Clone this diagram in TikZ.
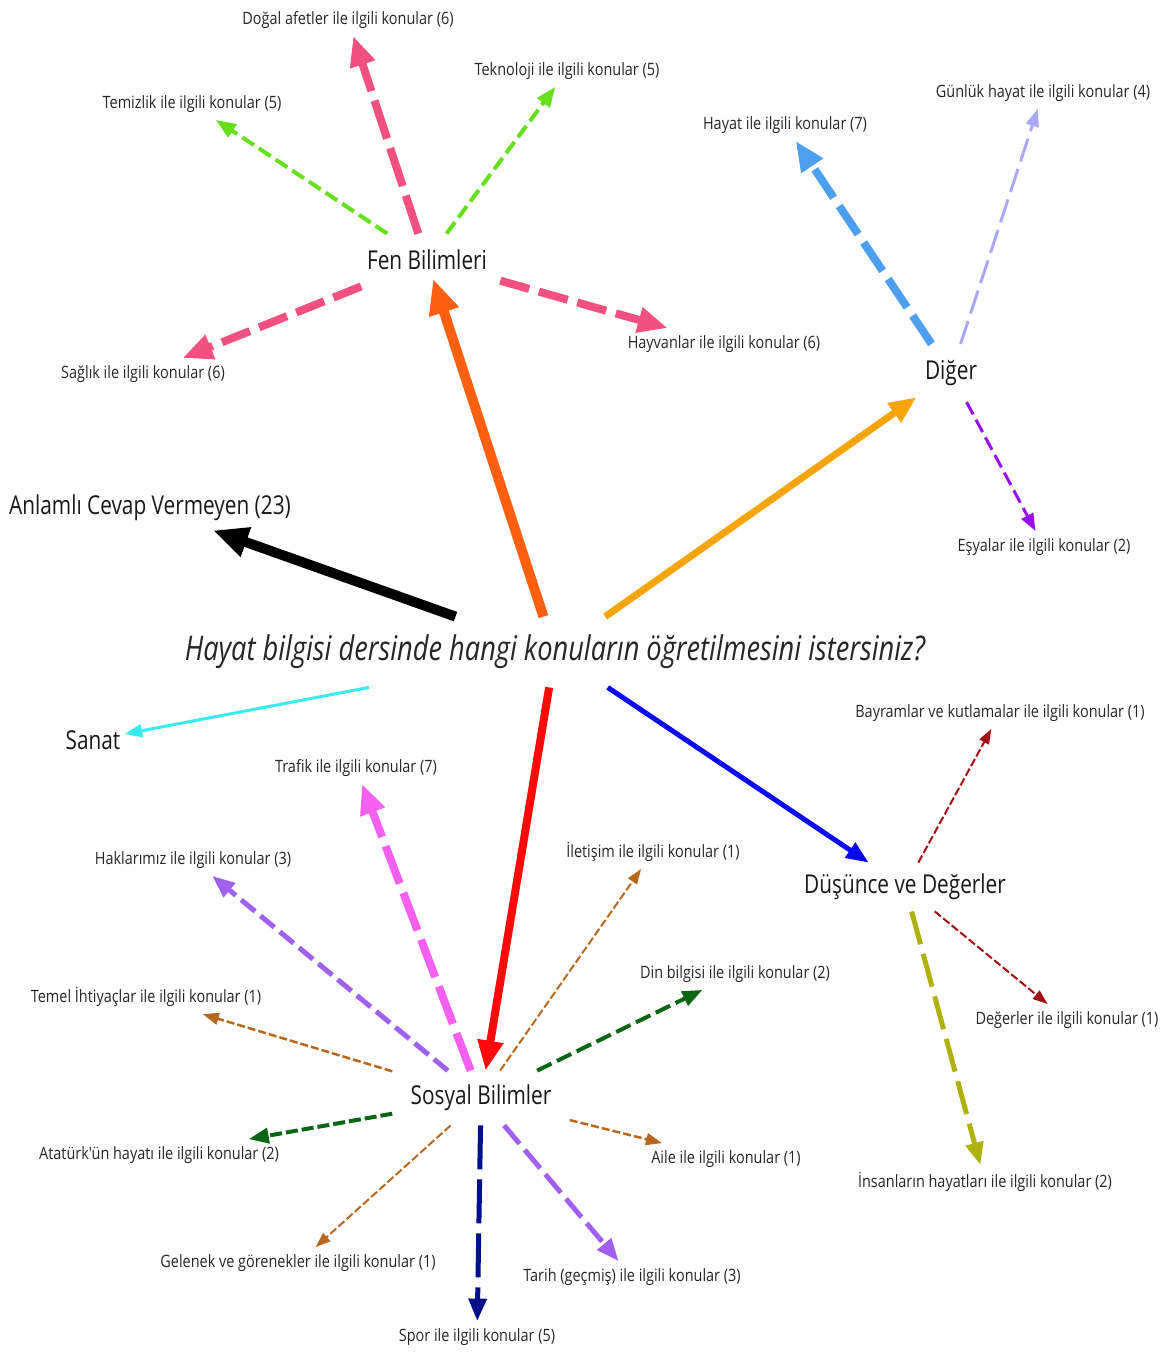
\documentclass[tikz,border=0pt]{standalone}
\usepackage{fontspec}
\setmainfont{Open Sans}
\newfontfamily\leaffnt{Open Sans}[FakeStretch=0.85]
\newfontfamily\hubfnt{Open Sans}[FakeStretch=0.8]
\newfontfamily\ctrfnt{Open Sans}[FakeStretch=0.8]
\usetikzlibrary{arrows.meta}
\definecolor{fenorange}{HTML}{FF6010}
\definecolor{amber}{HTML}{F5A50A}
\definecolor{cyanc}{HTML}{38ECEE}
\definecolor{redc}{HTML}{FF0A0A}
\definecolor{bluec}{HTML}{0A0AF0}
\definecolor{pinkc}{HTML}{F25080}
\definecolor{lgreen}{HTML}{66E01A}
\definecolor{skyc}{HTML}{4DA0F0}
\definecolor{lavc}{HTML}{A8A8F5}
\definecolor{violc}{HTML}{9910F0}
\definecolor{dredc}{HTML}{A50F14}
\definecolor{olivec}{HTML}{B0B010}
\definecolor{magc}{HTML}{F560F0}
\definecolor{purpc}{HTML}{A060F0}
\definecolor{brownc}{HTML}{B8681E}
\definecolor{dgreen}{HTML}{0A6614}
\definecolor{navyc}{HTML}{00108A}
\begin{document}
\begin{tikzpicture}[x=0.5pt,y=-0.5pt,
  leaf/.style={font=\leaffnt\fontsize{8.5}{10}\selectfont, text=black!85, inner xsep=0pt, inner ysep=3.5pt},
  hub/.style={font=\hubfnt\fontsize{13}{15}\selectfont, text=black!90},
  ctrnode/.style={font=\ctrfnt\itshape\fontsize{17}{20}\selectfont, text=black!85, inner xsep=0pt, inner ysep=9pt},
  conn/.style={-{Triangle[length=5pt 2.5,width=3pt 2.3]}}]
\useasboundingbox[fill=white] (0,0) rectangle (1165,1352);
% main nodes
\node[ctrnode] (ctr) at (555,652) {Hayat bilgisi dersinde hangi konuların öğretilmesini istersiniz?};
\node[hub, inner xsep=6.5pt, inner ysep=8pt] (fen) at (427,260) {Fen Bilimleri};
\node[hub, inner xsep=4pt, inner ysep=8pt] (dig) at (951,373) {Diğer};
\node[hub, inner xsep=5pt, inner ysep=4.5pt] (anl) at (150,508) {Anlamlı Cevap Vermeyen (23)};
\node[hub, inner xsep=2pt, inner ysep=4pt] (san) at (93,740) {Sanat};
\node[hub, inner xsep=5pt, inner ysep=5.5pt] (dus) at (905,887) {Düşünce ve Değerler};
\node[hub, inner xsep=9pt, inner ysep=7pt] (sos) at (481,1098) {Sosyal Bilimler};
% leaves
\node[leaf] (dogal) at (348,20) {Doğal afetler ile ilgili konular (6)};
\node[leaf] (tekno) at (567,71) {Teknoloji ile ilgili konular (5)};
\node[leaf] (temiz) at (192,104) {Temizlik ile ilgili konular (5)};
\node[leaf] (saglik) at (143,374) {Sağlık ile ilgili konular (6)};
\node[leaf] (hayvan) at (724,344) {Hayvanlar ile ilgili konular (6)};
\node[leaf] (hayat) at (785,125) {Hayat ile ilgili konular (7)};
\node[leaf] (gunluk) at (1043,93) {Günlük hayat ile ilgili konular (4)};
\node[leaf] (esya) at (1044,547) {Eşyalar ile ilgili konular (2)};
\node[leaf] (bayram) at (1000,713) {Bayramlar ve kutlamalar ile ilgili konular (1)};
\node[leaf] (deger) at (1067,1020) {Değerler ile ilgili konular (1)};
\node[leaf] (insan) at (985,1182) {İnsanların hayatları ile ilgili konular (2)};
\node[leaf] (trafik) at (356,768) {Trafik ile ilgili konular (7)};
\node[leaf] (hak) at (193,860) {Haklarımız ile ilgili konular (3)};
\node[leaf] (ilet) at (653,852) {İletişim ile ilgili konular (1)};
\node[leaf] (din) at (735,974) {Din bilgisi ile ilgili konular (2)};
\node[leaf] (temel) at (146,997) {Temel İhtiyaçlar ile ilgili konular (1)};
\node[leaf] (atat) at (159,1155) {Atatürk'ün hayatı ile ilgili konular (2)};
\node[leaf] (aile) at (726,1159) {Aile ile ilgili konular (1)};
\node[leaf] (gelenek) at (298,1263) {Gelenek ve görenekler ile ilgili konular (1)};
\node[leaf] (tarih) at (632,1277) {Tarih (geçmiş) ile ilgili konular (3)};
\node[leaf] (spor) at (477,1337) {Spor ile ilgili konular (5)};
% main connectors
\draw[conn, line width=5pt, black] (ctr) -- (anl);
\draw[conn, line width=5pt, fenorange, shorten >=-4pt] (ctr) -- (fen);
\draw[conn, line width=3.5pt, amber] (ctr) -- (dig);
\draw[conn, line width=1.5pt, cyanc] (ctr) -- (san);
\draw[conn, line width=4pt, redc] (ctr) -- (sos);
\draw[conn, line width=2.5pt, bluec] (ctr) -- (dus);
% Fen Bilimleri
\draw[conn, line width=4pt, pinkc, dash pattern=on 20pt off 5pt] (fen) -- (dogal);
\draw[conn, line width=2pt, lgreen, dash pattern=on 7pt off 3pt] (fen) -- (temiz);
\draw[conn, line width=2pt, lgreen, dash pattern=on 7pt off 3pt] (fen) -- (tekno);
\draw[conn, line width=4pt, pinkc, dash pattern=on 15pt off 5pt] (fen) -- (saglik);
\draw[conn, line width=4pt, pinkc, dash pattern=on 15pt off 5pt] (fen) -- (hayvan);
% Diger
\draw[conn, line width=4pt, skyc, dash pattern=on 17pt off 5pt] (dig) -- (hayat);
\draw[conn, line width=1.5pt, lavc, dash pattern=on 12pt off 4pt] (dig) -- (gunluk);
\draw[conn, line width=1.5pt, violc, dash pattern=on 7pt off 3pt] (dig) -- (esya);
% Dusunce ve Degerler
\draw[conn, line width=1pt, dredc, dash pattern=on 4pt off 1.5pt] (dus) -- (bayram);
\draw[conn, line width=1pt, dredc, dash pattern=on 4pt off 1.5pt] (dus) -- (deger);
\draw[conn, line width=2.5pt, olivec, dash pattern=on 17pt off 5pt] (dus) -- (insan);
% Sosyal Bilimler
\draw[conn, line width=4pt, magc, dash pattern=on 20pt off 5pt] (sos) -- (trafik);
\draw[conn, line width=2.5pt, purpc, dash pattern=on 9pt off 3.5pt] (sos) -- (hak);
\draw[conn, line width=1.25pt, brownc, dash pattern=on 4pt off 1.5pt] (sos) -- (temel);
\draw[conn, line width=1pt, brownc, dash pattern=on 4pt off 1.5pt] (sos) -- (ilet);
\draw[conn, line width=2pt, dgreen, dash pattern=on 8pt off 3pt] (sos) -- (din);
\draw[conn, line width=2pt, dgreen, dash pattern=on 6pt off 2pt] (sos) -- (atat);
\draw[conn, line width=1.25pt, brownc, dash pattern=on 4pt off 1.5pt] (sos) -- (aile);
\draw[conn, line width=1pt, brownc, dash pattern=on 4pt off 1.5pt] (sos) -- (gelenek);
\draw[conn, line width=2.5pt, navyc, dash pattern=on 22pt off 5pt] (sos) -- (spor);
\draw[conn, line width=2.5pt, purpc, dash pattern=on 12pt off 4pt] (sos) -- (tarih);
\end{tikzpicture}
\end{document}
